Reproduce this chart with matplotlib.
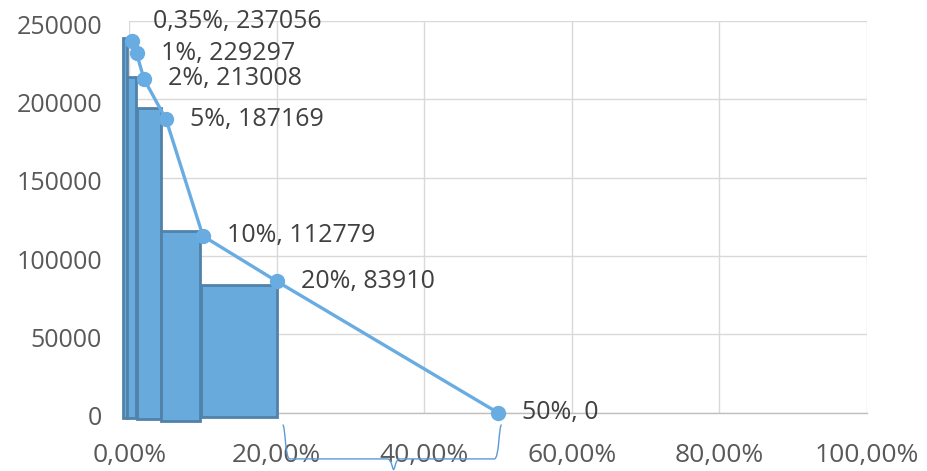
import matplotlib.pyplot as plt
import matplotlib.transforms as mtransforms
from matplotlib.path import Path
from matplotlib.patches import PathPatch
from matplotlib.ticker import FuncFormatter, MultipleLocator

# line series (share of x, value)
xs = [0.0035, 0.01, 0.02, 0.05, 0.10, 0.20, 0.50]
ys = [237056, 229297, 213008, 187169, 112779, 83910, 0]

# rectangles behind the line
bar_left = [-0.0088, -0.0034, 0.011, 0.0431, 0.0974]
bar_width = [0.0054, 0.0122, 0.0321, 0.0529, 0.1034]
bar_top = [239000, 214500, 194300, 116200, 81500]
bar_bottom = [-3200, -3200, -3800, -5500, -2600]

plt.rcParams['font.family'] = ['Open Sans', 'DejaVu Sans']

fig = plt.figure(figsize=(9.27, 4.71), dpi=100)
ax = fig.add_axes([129.2 / 927, 58.3 / 471, 737.5 / 927, 391.7 / 471])

heights = [t - b for t, b in zip(bar_top, bar_bottom)]
ax.bar(bar_left, heights, width=bar_width, bottom=bar_bottom, align='edge',
       color='#68AADC', edgecolor='#5182AA', linewidth=2, zorder=3, clip_on=False)

ax.plot(xs, ys, color='#69ACE2', linewidth=2.4, marker='o', markersize=10,
        zorder=4, clip_on=False)

# data labels
for i, (x, y) in enumerate(zip(xs, ys)):
    txt = f"{x * 100:g}%".replace('.', ',') + f", {y}"
    dx, dy = (21, 20) if i == 0 else (24, 0)
    ax.annotate(txt, (x, y), xytext=(dx, dy), textcoords='offset pixels',
                ha='left', va='center', fontsize=18, color='#404040',
                zorder=5, annotation_clip=False)

# curly brace under the axis between the last two points
x0 = xs[5] + 0.008
x1 = xs[6] + 0.005
xm = (x0 + x1) / 2 + 0.002
tr = ax.get_xaxis_transform()
verts = [(x0, -0.031), (x0 + 0.004, -0.031), (x0 + 0.003, -0.118), (x0 + 0.01, -0.118),
         (xm - 0.008, -0.118),
         (xm - 0.003, -0.118), (xm - 0.001, -0.146), (xm, -0.146),
         (xm + 0.001, -0.146), (xm + 0.003, -0.118), (xm + 0.008, -0.118),
         (x1 - 0.01, -0.118),
         (x1 - 0.003, -0.118), (x1 - 0.004, -0.031), (x1, -0.031)]
codes = [Path.MOVETO, Path.CURVE4, Path.CURVE4, Path.CURVE4,
         Path.LINETO,
         Path.CURVE4, Path.CURVE4, Path.CURVE4,
         Path.CURVE4, Path.CURVE4, Path.CURVE4,
         Path.LINETO,
         Path.CURVE4, Path.CURVE4, Path.CURVE4]
ax.add_patch(PathPatch(Path(verts, codes), transform=tr, fill=False,
                       edgecolor='#5B9BD5', linewidth=1, clip_on=False, zorder=2))

ax.set_xlim(0, 1)
ax.set_ylim(0, 250000)
ax.xaxis.set_major_locator(MultipleLocator(0.2))
ax.yaxis.set_major_locator(MultipleLocator(50000))
ax.xaxis.set_major_formatter(FuncFormatter(lambda v, p: f"{v * 100:.2f}%".replace('.', ',')))
ax.grid(True, color='#D9D9D9', linewidth=1)
ax.set_axisbelow(True)
for s in ['left', 'top', 'right']:
    ax.spines[s].set_visible(False)
ax.spines['bottom'].set_color('#BFBFBF')
ax.spines['bottom'].set_linewidth(1)
ax.tick_params(length=0, colors='#595959')
ax.tick_params(axis='y', pad=19.5, labelsize=18)
ax.tick_params(axis='x', pad=22, labelsize=19)

# y labels sit a little below their gridlines in the original
shift = mtransforms.ScaledTranslation(0, -3 / 100, fig.dpi_scale_trans)
for lab in ax.get_yticklabels():
    lab.set_transform(lab.get_transform() + shift)

fig.savefig('out.png', dpi=100)
